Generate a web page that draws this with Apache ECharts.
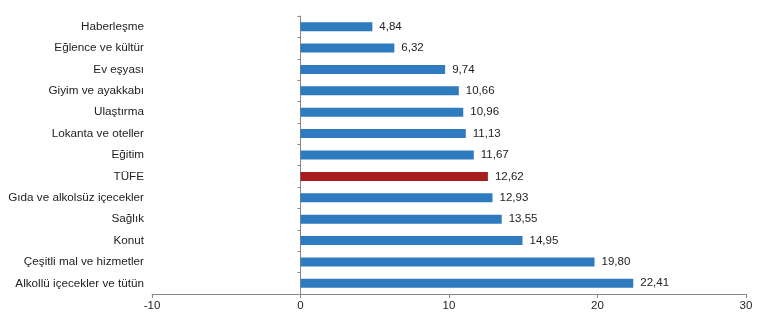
<!DOCTYPE html>
<html><head><meta charset="utf-8">
<script src="https://cdn.jsdelivr.net/npm/echarts@6/dist/echarts.min.js"></script>
<style>html,body{margin:0;padding:0;background:#fff}#c{width:769px;height:325px}</style>
</head><body><div id="c"></div>
<script>
const categories = ["Haberleşme","Eğlence ve kültür","Ev eşyası","Giyim ve ayakkabı","Ulaştırma","Lokanta ve oteller","Eğitim","TÜFE","Gıda ve alkolsüz içecekler","Sağlık","Konut","Çeşitli mal ve hizmetler","Alkollü içecekler ve tütün"];
const values = [4.84,6.32,9.74,10.66,10.96,11.13,11.67,12.62,12.93,13.55,14.95,19.80,22.41];
const highlight = "TÜFE";
const xTicks = [-10,0,10,20,30];

const blue = "#2e7bbf", red = "#a81c1e";
const font = "Arial, 'Liberation Sans', sans-serif";
const chart = echarts.init(document.getElementById('c'), null, {renderer:'canvas'});
chart.setOption({
  animation:false,
  grid:{left:152,right:23,top:16,bottom:31,containLabel:false},
  xAxis:{type:'value',min:xTicks[0],max:xTicks[xTicks.length-1],interval:10,
    splitLine:{show:false},
    axisLine:{show:true,onZero:false,lineStyle:{color:'#888',width:1}},
    axisTick:{show:true,length:4,lineStyle:{color:'#888'}},
    axisLabel:{color:'#222',fontSize:11.5,fontFamily:font,margin:6}},
  yAxis:[
    {type:'category',data:categories,inverse:true,
     axisLine:{show:true,onZero:true,lineStyle:{color:'#888',width:1}},
     axisTick:{show:true,length:3,inside:false,lineStyle:{color:'#888'}},
     axisLabel:{show:false}},
    {type:'category',data:categories,inverse:true,position:'left',
     axisLine:{show:false,onZero:false},axisTick:{show:false},
     axisLabel:{show:true,color:'#222',fontSize:11.7,fontFamily:font,margin:8}}
  ],
  series:[{type:'bar',yAxisIndex:0,barWidth:9,
    data:values.map((v,i)=>({value:v,itemStyle:{color:categories[i]===highlight?red:blue}})),
    label:{show:true,position:'right',distance:7,color:'#222',fontSize:11.5,fontFamily:font,
      formatter:p=>p.value.toFixed(2).replace('.',',')}}]
});
</script></body></html>
